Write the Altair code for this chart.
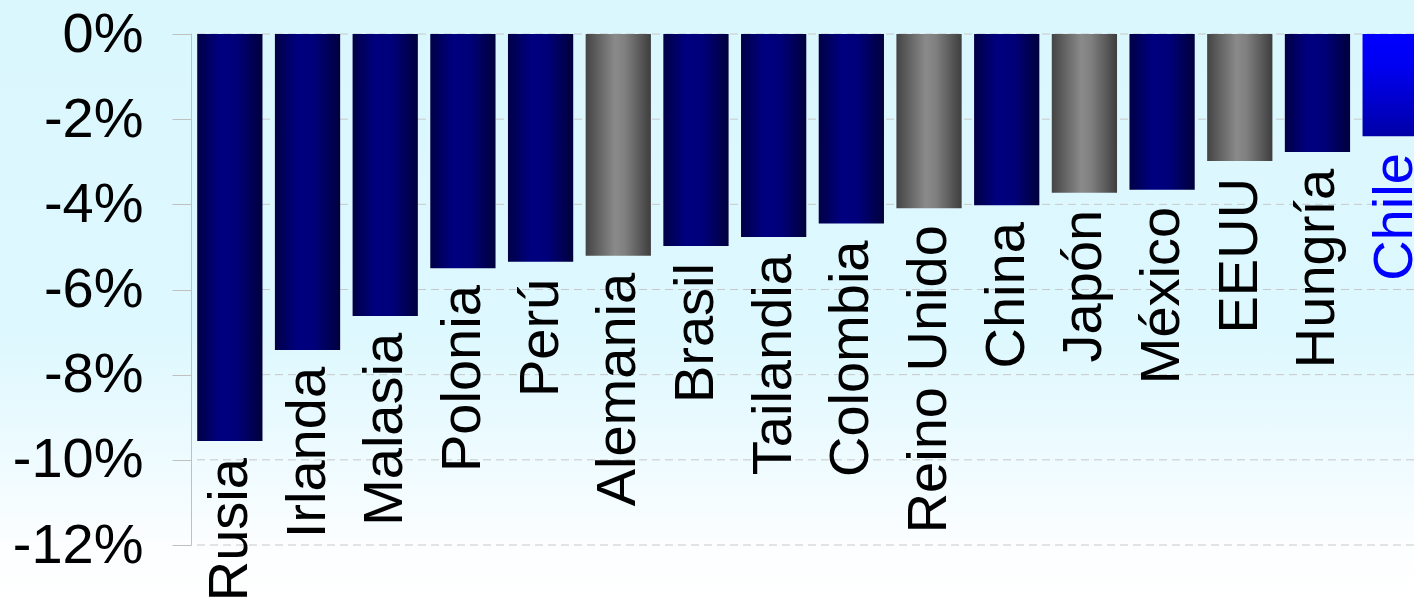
import altair as alt
import pandas as pd

paises = ["Rusia", "Irlanda", "Malasia", "Polonia", "Perú", "Alemania", "Brasil",
          "Tailandia", "Colombia", "Reino Unido", "China", "Japón", "México",
          "EEUU", "Hungría", "Chile"]
valores = [-9.56, -7.42, -6.62, -5.50, -5.35, -5.21, -4.98, -4.77, -4.45,
           -4.09, -4.02, -3.73, -3.66, -2.98, -2.77, -2.40]
tipos = ["emergente", "emergente", "emergente", "emergente", "emergente",
         "desarrollado", "emergente", "emergente", "emergente", "desarrollado",
         "emergente", "desarrollado", "emergente", "desarrollado", "emergente",
         "chile"]
ticks = [0, -2, -4, -6, -8, -10, -12]

df = pd.DataFrame({"pais": paises, "valor": valores, "tipo": tipos})

W, H = 1223, 511
xscale = alt.Scale(domain=paises, range=[0, 1243], paddingInner=0.16, paddingOuter=0.08)
yscale = alt.Scale(domain=[-12, 0], nice=False)


def grad(stops, vertical=False):
    return alt.Gradient(
        gradient="linear",
        stops=[alt.GradientStop(offset=o, color=c) for o, c in stops],
        x1=0, y1=0,
        x2=0 if vertical else 1,
        y2=1 if vertical else 0,
    )


yaxis = alt.Axis(values=ticks, labelExpr="datum.value + '%'", labelFontSize=56,
                 labelFont="Liberation Sans", labelColor="black", labelPadding=29,
                 tickSize=19, tickColor="#C0C0C0", domainColor="#C0C0C0",
                 grid=False, zindex=1, title=None, labelOverlap=False, labelFlush=False)

bg = alt.Chart(alt.Data(values=[{"a": 1}])).mark_rect(
    color=grad([(0, "#DBF7FE"), (0.55, "#DDF8FE"), (0.75, "#EEFBFF"),
                (0.9, "#FDFEFF"), (1, "#FFFFFF")], vertical=True)
).encode(x=alt.value(-200), x2=alt.value(1300), y=alt.value(-40), y2=alt.value(580))

grid = alt.Chart(alt.Data(values=[{"v": t} for t in ticks])).mark_rule(
    color="#C8C8C8", strokeDash=[8, 5], strokeWidth=1
).encode(y=alt.Y("v:Q", scale=yscale, axis=yaxis))

fills = {
    "emergente": grad([(0, "#000046"), (0.35, "#000080"), (0.6, "#00007A"), (1, "#00003C")]),
    "desarrollado": grad([(0, "#444444"), (0.45, "#8A8A8A"), (0.6, "#808080"), (1, "#3E3E3E")]),
    "chile": grad([(0, "#0000FF"), (0.3, "#0000F2"), (1, "#0000A8")], vertical=True),
}

bars = []
for t, g in fills.items():
    bars.append(
        alt.Chart(df).transform_filter(alt.datum.tipo == t).mark_bar(color=g).encode(
            x=alt.X("pais:N", scale=xscale, axis=None, sort=paises),
            y=alt.Y("valor:Q", scale=yscale),
        )
    )

labels = alt.Chart(df).mark_text(
    angle=270, align="right", baseline="middle", dx=-17, fontSize=56,
    font="Liberation Sans"
).encode(
    x=alt.X("pais:N", scale=xscale, axis=None, sort=paises),
    y=alt.Y("valor:Q", scale=yscale),
    text="pais:N",
    color=alt.condition(alt.datum.pais == "Chile", alt.value("#0000FF"), alt.value("#000000")),
)

chart = alt.layer(bg, grid, *bars, labels).properties(
    width=W, height=H,
    autosize=alt.AutoSizeParams(type="none"),
    padding={"left": 191, "top": 34, "right": 0, "bottom": 60},
).configure_view(stroke=None).configure(background="white")

chart.save("out.html", embed_options={"renderer": "svg", "actions": False})
